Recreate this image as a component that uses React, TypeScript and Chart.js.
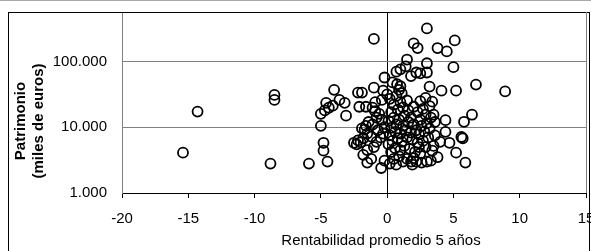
import { useEffect, useRef } from "react";
import { Chart, registerables } from "chart.js";

Chart.register(...registerables);

// 5-year average return (%)
const returns5y = [
  -15.4, -14.3, -8.5, -8.5, -8.8, -5.9, -4.5, -4.8, -4.8, -5.0, -4.0, -3.6, -3.2, -3.1, -4.6, -5.0, -4.7, -4.4, -4.1, -1.0, -2.5, -2.3, -2.0, -1.7,
  -2.2, -1.8, -1.5, -1.2, -1.9, -1.6, -1.4, -1.1, -2.1, -1.6, -1.1, -2.2, -1.9, -1.0, -1.8, -1.5, -1.2, -1.5, -1.0, -0.8, -0.45, -0.2, -0.8, -0.6, -0.9, -0.4, -0.7, -0.3, -0.5, -0.2, -0.2, -0.9, -0.4, 0.0, -0.3,
  0.2, 0.68, 0.5, 0.9, 1.2, 1.5, 1.8, 2.0, 0.3, 0.6, 1.0, 1.3, 1.7, 0.1, 0.4, 0.8, 1.1, 1.5, 1.9, 0.2, 0.6, 1.0, 1.4, 1.8, 0.3, 0.7, 1.2, 1.6, 2.0, 0.1, 0.5, 0.9, 1.3, 1.8, 0.3, 0.8, 1.2, 1.6, 2.0, 0.5, 1.0, 1.5, 0.2, 0.7, 1.1, 0.4, 0.75, 0.7, 1.0, 1.4, 1.5, 1.8, 2.2, 2.0, 2.3, 1.0, 0.9,
  2.2, 2.6, 3.0, 3.3, 3.4, 2.5, 2.9, 2.4, 2.3, 2.7, 3.1, 2.4, 2.8, 3.2, 2.2, 2.6, 3.0, 3.3, 2.5, 2.9, 3.5, 2.3, 2.7, 3.2, 3.4, 2.5, 2.9, 3.2, 3.0, 2.5, 3.0, 3.0, 3.8, 4.5, 5.1, 5.0, 4.1, 5.2, 6.7, 8.9, 6.4, 5.8, 4.4, 3.6, 4.4, 4.7, 5.6, 5.7, 5.2, 5.9, 3.8, 4.0, 3.6, 3.5, 1.9, 2.1,
];

// Assets (thousand euros)
const assets = [
  4100, 17300, 31000, 26000, 2800, 2800, 3000, 4400, 5800, 10500, 37000, 26000, 23500, 15000, 23500, 16000, 18000, 19800, 21300, 220000, 5800, 5500, 5900, 9200,
  6300, 6800, 8000, 7200, 9600, 10500, 12000, 11000, 20500, 20500, 19800, 33600, 33600, 40000, 3800, 4500, 3300, 2900, 5000, 6000, 2400, 3100, 14000, 16000, 17500, 13000, 9000, 8000, 7000, 10000, 57000, 24000, 26000, 31500, 36000,
  2800, 2700, 3300, 3600, 3000, 3300, 3000, 3400, 4200, 4800, 4500, 5200, 4700, 5500, 6200, 6800, 6000, 7000, 6500, 7500, 8500, 8000, 9000, 8300, 9800, 11000, 10500, 12000, 11000, 12500, 14000, 13000, 15000, 14000, 17000, 18500, 20000, 18000, 20500, 22000, 24000, 25500, 27000, 30000, 33000, 48000, 45000, 70000, 76000, 84000, 107000, 60000, 68000, 188000, 160000, 42000, 37000,
  3000, 2900, 3000, 3100, 4400, 4000, 5000, 5000, 5800, 6200, 7000, 7800, 8600, 9500, 9000, 10500, 11500, 14000, 13000, 15500, 15500, 17000, 19000, 21000, 24500, 25000, 28000, 41500, 68000, 66000, 94000, 318000, 160000, 142000, 209000, 82000, 36000, 36000, 44500, 35000, 15500, 12100, 12800, 12000, 8500, 5800, 7100, 6800, 4100, 2900, 3500, 6000, 7500, 5200, 2700, 4200,
];

const xTicks = [-20, -15, -10, -5, 0, 5, 10, 15];
const yTicks = [1000, 10000, 100000];
const yTitleLines = ["Patrimonio", "(miles de euros)"];
const xTitle = "Rentabilidad promedio 5 años";

const FONT = "'Liberation Sans', Arial, Helvetica, sans-serif";

const fmtThousands = (v: number) =>
  String(Math.round(v)).replace(/\B(?=(\d{3})+(?!\d))/g, ".");

const framePlugin = {
  id: "frame",
  afterDraw(chart: any) {
    const { ctx, chartArea: a } = chart;
    ctx.save();
    // light gray line at the very top
    ctx.fillStyle = "#a8a8a8";
    ctx.fillRect(0, 0, 600, 1);
    // outer black frame
    ctx.fillStyle = "#000";
    ctx.fillRect(8, Math.round(a.top), 582, 1);
    ctx.fillRect(8, Math.round(a.top), 1, 251);
    ctx.fillRect(589, Math.round(a.top), 1, 251);
    // plot right border
    ctx.fillStyle = "#808080";
    ctx.fillRect(Math.round(a.right), a.top, 1, a.bottom - a.top);
    // x title
    ctx.fillStyle = "#000";
    ctx.font = `15px ${FONT}`;
    ctx.textAlign = "center";
    ctx.textBaseline = "alphabetic";
    ctx.fillText(xTitle, 381, 245);
    // y title
    ctx.font = `bold 15px ${FONT}`;
    const baselines = [25, 43];
    yTitleLines.forEach((line, i) => {
      ctx.save();
      ctx.translate(baselines[i], 121);
      ctx.rotate(-Math.PI / 2);
      ctx.fillText(line, 0, 0);
      ctx.restore();
    });
    ctx.restore();
  },
};

export default function App() {
  const ref = useRef<HTMLCanvasElement>(null);

  useEffect(() => {
    document.body.style.margin = "0";
    document.body.style.overflow = "hidden";
    const points = returns5y.map((x, i) => ({ x, y: assets[i] }));
    const chart = new Chart(ref.current as HTMLCanvasElement, {
      type: "scatter",
      data: {
        datasets: [
          {
            data: points,
            pointRadius: 5,
            pointBorderWidth: 1.8,
            pointBorderColor: "#000",
            pointBackgroundColor: "rgba(0,0,0,0)",
            showLine: false,
          } as any,
        ],
      },
      options: {
        animation: false,
        responsive: false,
        devicePixelRatio: 1,
        events: [],
        layout: { padding: { top: 12, right: 14, left: 0, bottom: 0 } },
        plugins: { legend: { display: false }, tooltip: { enabled: false } },
        scales: {
          x: {
            type: "linear",
            min: -20,
            max: 15,
            afterBuildTicks: (s: any) => {
              s.ticks = xTicks.map((v) => ({ value: v }));
            },
            afterFit: (s: any) => {
              s.height = 58;
              s.paddingLeft = 0;
              s.paddingRight = 0;
            },
            ticks: {
              callback: (v: any) => String(v),
              font: { family: FONT, size: 15 },
              color: "#000",
              padding: 12,
              maxRotation: 0,
              autoSkip: false,
            },
            grid: {
              color: (c: any) =>
                c.tick && c.tick.value === 0 ? "#000" : "rgba(0,0,0,0)",
              tickColor: "#000",
              tickLength: 5,
              lineWidth: 1,
            },
            border: { color: "#000", width: 1 },
          },
          y: {
            type: "logarithmic",
            min: 1000,
            max: 565000,
            afterBuildTicks: (s: any) => {
              s.ticks = yTicks.map((v) => ({ value: v }));
            },
            afterFit: (s: any) => {
              s.width = 122;
              s.paddingTop = 0;
              s.paddingBottom = 0;
            },
            ticks: {
              callback: (v: any) => fmtThousands(Number(v)),
              font: { family: FONT, size: 15 },
              color: "#000",
              padding: 15,
              autoSkip: false,
            },
            grid: {
              color: (c: any) =>
                c.tick && c.tick.value === 1000 ? "rgba(0,0,0,0)" : "#808080",
              drawTicks: false,
              lineWidth: 1,
            },
            border: { color: "#808080", width: 1 },
          },
        },
      },
      plugins: [framePlugin],
    });
    return () => chart.destroy();
  }, []);

  return (
    <div style={{ width: 600, height: 251, position: "relative" }}>
      <canvas
        ref={ref}
        width={600}
        height={251}
        style={{ width: 600, height: 251, display: "block" }}
      />
    </div>
  );
}
